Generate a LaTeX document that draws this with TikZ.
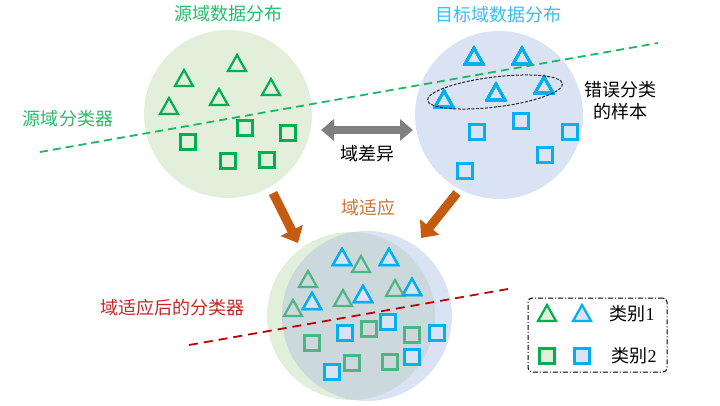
\documentclass[tikz,border=0pt]{standalone}
\usepackage{fontspec}
\setmainfont{Liberation Serif}
\newfontfamily\cjk{Noto Sans CJK SC}
\usetikzlibrary{arrows.meta}
\definecolor{srcgreen}{HTML}{00B050}
\definecolor{tgtblue}{HTML}{00B0F0}
\definecolor{srcfill}{HTML}{E2EFDA}
\definecolor{tgtfill}{HTML}{DAE3F3}
\definecolor{mixfill}{HTML}{CBD9DD}
\definecolor{mixgreen}{HTML}{4DB585}
\definecolor{adaptred}{HTML}{C00000}
\definecolor{adaptorange}{HTML}{C55A11}
\tikzset{
  lbl/.style={font=\cjk\fontsize{18}{21}\selectfont, inner sep=0pt},
  bigarrow/.style={line width=9pt, -{Triangle[length=14pt,width=24pt]}},
  tri/.style={line width=2.2pt, line join=miter},
  sqr/.style={line width=2.4pt}
}
\newcommand{\tri}[3][]{\draw[tri,#1] (#2-9,#3+7) -- (#2+9,#3+7) -- (#2,#3-9) -- cycle;}
\newcommand{\sqr}[3][]{\draw[sqr,#1] (#2-7.5,#3-7.5) rectangle (#2+7.5,#3+7.5);}
\begin{document}
\begin{tikzpicture}[x=1pt, y=-1pt]
  \useasboundingbox (0,0) rectangle (720,405);
  % domains
  \node[circle, fill=srcfill, minimum size=168pt, inner sep=0pt] (src) at (228,114) {};
  \node[circle, fill=tgtfill, minimum size=168pt, inner sep=0pt] (tgt) at (499,115) {};
  \node[circle, fill=srcfill, minimum size=168pt, inner sep=0pt] (mixsrc) at (351,316) {};
  \node[circle, fill=tgtfill, minimum size=170pt, inner sep=0pt] (mixtgt) at (367,316) {};
  \begin{scope}
    \clip (351,316) circle (84);
    \fill[mixfill] (367,316) circle (85);
  \end{scope}
  \node[lbl, text=srcgreen!85!white] (srctitle) at (228,14) {源域数据分布};
  \node[lbl, text=tgtblue!80!white] (tgttitle) at (498,15) {目标域数据分布};
  % source samples
  \foreach \px/\py in {237/64, 184/79, 271/88, 219/98, 169/107} \tri[srcgreen]{\px}{\py}
  \foreach \px/\py in {245/128, 288/133, 188/142, 228/161, 267/160} \sqr[srcgreen]{\px}{\py}
  % target samples
  \foreach \px/\py in {474/57, 522/57, 544/86, 496/93, 444/100} \tri[tgtblue]{\px}{\py}
  \foreach \px/\py in {477/132, 521/121, 570/132, 545/155, 465/171} \sqr[tgtblue]{\px}{\py}
  % source classifier
  \coordinate (clfa) at (40,152);
  \coordinate (clfb) at (658,43);
  \draw[srcgreen!90!white, line width=1.8pt, dash pattern=on 8pt off 5pt] (clfa) -- (clfb);
  \node[lbl, text=srcgreen!85!white] (clflabel) at (68,119) {源域分类器};
  \draw[black!85, line width=1pt, dash pattern=on 3pt off 1.5pt, rotate around={7:(495,92)}] (495,92) ellipse (68 and 15);
  \node[lbl, align=center] (wrong) at (620,101) {错误分类\\[1pt]的样本};
  % domain gap
  \coordinate (gapl) at (321,130);
  \coordinate (gapr) at (413,130);
  \draw[black!50, line width=8pt, {Triangle[length=13pt,width=21pt]}-{Triangle[length=13pt,width=21pt]}] (gapl) -- (gapr);
  \node[lbl] (gap) at (367,154) {域差异};
  % adaptation
  \coordinate (srcout) at (273,193);
  \coordinate (mixinl) at (298,243);
  \coordinate (tgtout) at (457,193);
  \coordinate (mixinr) at (421,238);
  \draw[bigarrow, adaptorange] (srcout) -- (mixinl);
  \draw[bigarrow, adaptorange] (tgtout) -- (mixinr);
  \node[lbl, text=adaptorange!85!white] (adapt) at (368,208) {域适应};
  % adapted samples
  \foreach \px/\py in {361/265, 308/280, 293/309, 343/299, 395/289} \tri[mixgreen]{\px}{\py}
  \foreach \px/\py in {342/258, 389/258, 312/302, 363/295, 412/288} \tri[tgtblue, fill=tgtfill]{\px}{\py}
  \foreach \px/\py in {312/343, 369/329, 412/335, 352/363, 390/362} \sqr[mixgreen]{\px}{\py}
  \foreach \px/\py in {345/333, 388/322, 437/333, 412/357, 332/372} \sqr[tgtblue, fill=tgtfill]{\px}{\py}
  % adapted classifier
  \coordinate (newa) at (189,345);
  \coordinate (newb) at (508,289);
  \draw[adaptred, line width=1.8pt, dash pattern=on 9pt off 6pt] (newa) -- (newb);
  \node[lbl, text=adaptred!85!white] (newlabel) at (172,308) {域适应后的分类器};
  % legend
  \node[draw, rounded corners=4pt, line width=1pt, dash pattern=on 5pt off 2pt on 1pt off 2pt,
        minimum width=139pt, minimum height=74pt] (legend) at (597.5,335) {};
  \tri[srcgreen, fill=srcfill]{547}{314}
  \tri[tgtblue, fill=tgtfill]{582}{314}
  \sqr[srcgreen, fill=srcfill]{547}{356}
  \sqr[tgtblue, fill=tgtfill]{582}{356}
  \node[font=\fontsize{18}{21}\selectfont, inner sep=0pt] (cls1) at (632,314) {{\cjk 类别}1};
  \node[font=\fontsize{18}{21}\selectfont, inner sep=0pt] (cls2) at (634,356) {{\cjk 类别}2};
\end{tikzpicture}
\end{document}
